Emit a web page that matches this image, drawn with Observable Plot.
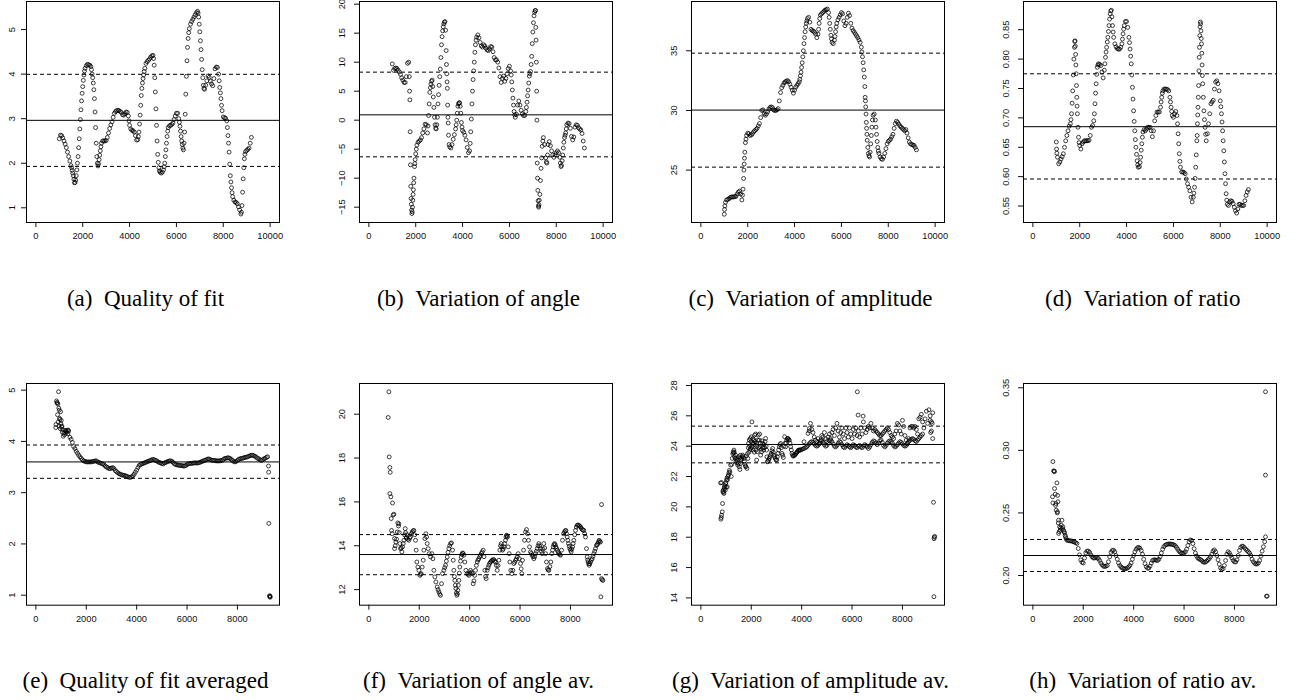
<!DOCTYPE html>
<html><head><meta charset="utf-8">
<script src="https://cdn.jsdelivr.net/npm/d3@7"></script>
<script src="https://cdn.jsdelivr.net/npm/@observablehq/plot@0.6"></script>
<style>
html,body{margin:0;padding:0;background:#fff}
body{width:1297px;height:700px;position:relative;overflow:hidden}
.panel{position:absolute}
#caps{position:absolute;left:0;top:0}
</style></head><body>
<script>
// ---------- data ----------
// top row: values sampled every 50 units starting at x = 1000
const topStart = 1000, topStep = 50;
const qualityFit = [
2.55,2.63,2.62,2.57,2.50,2.43,2.35,2.25,2.15,2.05,
1.95,1.84,1.72,1.56,1.62,1.85,2.15,2.55,2.98,3.40,
3.72,3.98,4.13,4.19,4.22,4.21,4.20,4.17,4.00,3.80,
3.45,2.80,2.15,1.94,2.08,2.28,2.45,2.50,2.50,2.50,
2.51,2.58,2.68,2.78,2.86,2.93,3.03,3.12,3.16,3.18,
3.19,3.18,3.16,3.14,3.09,3.08,3.11,3.15,3.14,3.06,
2.85,2.77,2.74,2.73,2.70,2.62,2.52,2.53,2.70,3.08,
3.52,3.80,3.98,4.13,4.24,4.28,4.31,4.34,4.38,4.41,
4.42,4.20,3.60,2.85,2.20,1.90,1.80,1.78,1.80,1.85,
2.00,2.30,2.60,2.80,2.84,2.85,2.87,2.90,2.98,3.06,
3.12,3.12,3.00,2.83,2.60,2.42,2.30,2.70,3.55,4.30,
4.80,5.02,5.12,5.18,5.23,5.28,5.33,5.38,5.41,5.28,
4.95,4.55,4.10,3.75,3.66,3.75,3.85,3.96,3.93,3.84,
3.78,3.74,3.90,4.12,4.16,4.15,4.00,3.70,3.45,3.18,
3.04,3.02,3.01,2.95,2.62,2.25,1.72,1.45,1.25,1.17,
1.13,1.12,1.09,1.02,0.95,0.86,1.05,1.65,2.10,2.26,
2.29,2.31,2.34,2.45,2.58];
// additional points read on the steep stretches
const qualityFitSteep = [[1525,1.9],[1575,1.78],[1625,1.64],[1675,1.57],[1725,1.72],[1775,2.0],[1825,2.35],[1875,2.77],[1925,3.2],[1975,3.57],[2025,3.86],[2075,4.07],
[2375,4.1],[2425,3.92],[2475,3.65],[2525,3.15],[2575,2.45],[2625,2.0],[2675,1.99],[2725,2.18],[2775,2.37],[3975,2.95],
[4375,2.6],[4425,2.88],[4475,3.3],[4525,3.68],[4575,3.9],[4625,4.06],
[5025,4.35],[5075,3.92],[5125,3.22],[5175,2.5],[5225,2.02],[5275,1.83],
[5475,1.92],[5525,2.15],[5575,2.45],[5625,2.72],
[6125,2.92],[6175,2.72],[6225,2.5],[6275,2.34],[6325,2.45],[6375,3.1],[6425,3.95],[6475,4.6],[6525,4.93],
[6925,5.37],[6975,5.12],[7025,4.75],[7075,4.33],[7125,3.92],[7175,3.68],
[7825,3.85],[7875,3.58],[7925,3.3],
[8175,2.8],[8225,2.45],[8275,1.98],[8325,1.58],[8375,1.34],
[8775,0.9],[8825,1.35],[8875,1.9],[8925,2.2]];
const varAngle = [
9.7,8.6,8.9,9.0,8.9,8.6,8.3,7.9,7.3,6.9,
6.5,6.5,7.5,9.8,10.0,3.5,-13.5,-15.8,-12.0,-8.0,
-5.8,-4.3,-3.8,-3.6,-3.4,-3.0,-2.2,-1.5,-0.7,-0.8,
-2.2,0.8,4.8,6.2,6.9,4.0,0.5,-1.4,-0.8,2.8,
6.0,8.8,13.0,15.4,16.6,17.0,12.0,5.5,-2.6,-4.6,
-4.8,-4.2,-3.3,-2.5,-1.5,0.0,2.4,3.0,2.4,-0.4,
-1.8,-2.1,-2.6,-3.4,-4.7,-5.6,-5.3,-2.0,2.8,7.0,
10.0,13.0,14.3,14.7,14.2,13.4,12.8,12.6,13.0,12.8,
12.4,12.1,12.0,12.3,12.7,12.6,11.8,10.8,10.4,10.4,
10.0,9.0,7.5,6.5,7.2,7.6,6.7,7.2,8.0,8.9,
9.3,8.5,6.6,3.8,1.5,0.5,1.0,2.6,3.3,2.6,
1.7,1.1,0.8,0.8,1.5,3.1,5.2,7.6,8.4,11.0,
15.2,18.0,18.9,10.0,-10.0,-15.0,-12.8,-8.3,-4.5,-3.0,
-4.2,-6.5,-7.4,-4.2,-3.7,-4.4,-5.3,-6.0,-6.4,-6.0,
-5.6,-5.3,-5.6,-6.4,-8.0,-7.0,-4.8,-3.0,-2.2,-0.8,
-0.5,-0.6,-1.4,-2.8,-3.4,-2.9,-1.2,-0.8,-0.9,-1.3,
-1.5,-1.7,-2.3,-3.6,-4.8];
const varAngleSteep = [[1725,7.5],[1737,5.0],[1762,-2.0],[1775,-7.7],[1787,-11.4],[1812,-14.5],[1825,-15.5],[1837,-16.1],[1862,-15.0],[1875,-13.8],[1887,-12.8],[1912,-10.8],[1925,-10.0],[1962,-7.5],[1975,-6.8],[2025,-5.0],
[2525,-1.0],[2575,2.8],[2625,5.6],[2675,6.7],[2725,5.8],[2775,2.2],[2825,-0.8],[2875,-1.5],[2925,0.5],[2975,4.4],[3025,7.5],[3075,10.8],[3125,14.4],[3175,16.1],[3225,16.9],[3275,15.5],[3312,9.6],[3325,8.0],[3337,6.6],[3362,2.6],[3375,0.5],[3387,-0.5],[3425,-4.2],
[3725,-0.8],[3775,1.2],[3825,2.8],[3875,3.0],[3925,1.2],[3975,-1.2],
[4325,-4.0],[4375,0.2],[4425,5.0],[4475,8.5],[4525,11.7],[4575,13.8],
[6075,7.8],[6125,5.2],[6175,2.6],[6225,0.9],
[6725,2.2],[6775,4.2],[6825,6.4],[6875,8.0],[6925,9.6],[6975,13.2],[7025,16.8],[7075,18.6],[7112,18.9],[7125,16.0],[7137,13.8],[7162,5.0],[7175,0.0],[7187,-7.4],[7212,-12.1],[7225,-13.9],[7237,-14.8],[7262,-14.6],[7275,-13.8],[7325,-10.4],[7375,-6.5],[7425,-3.6],
[7575,-7.2],[7625,-6.0],
[8175,-7.4],[8225,-7.8],[8275,-6.0],[8325,-3.8],[8375,-2.6],[8425,-1.5]];
const varAmplitude = [
21.3,22.3,22.5,22.55,22.6,22.7,22.75,22.75,22.75,22.78,
22.8,23.0,23.15,23.25,23.0,22.5,23.4,25.5,27.3,27.9,
28.1,28.05,27.9,27.95,28.05,28.2,28.3,28.4,28.5,28.7,
28.9,29.4,30.0,30.05,29.7,29.6,29.7,29.9,30.1,30.25,
30.3,30.25,30.05,30.0,30.0,30.05,30.15,30.8,31.5,31.9,
32.1,32.3,32.4,32.45,32.5,32.4,32.2,31.95,31.7,31.45,
31.7,31.95,32.1,32.25,32.4,32.9,33.6,34.5,35.6,36.6,
37.3,37.7,37.8,37.4,36.8,36.7,36.65,36.55,36.4,36.1,
36.4,37.3,38.0,38.1,38.2,38.3,38.4,38.45,38.5,38.2,
37.3,36.3,35.7,35.6,35.9,36.6,37.3,37.6,37.8,38.0,
38.2,38.1,37.5,37.1,37.3,37.8,38.15,37.95,37.3,36.9,
36.7,36.55,36.4,36.25,36.1,35.9,35.7,35.3,34.5,33.4,
32.0,29.7,27.5,26.4,26.1,27.2,28.6,29.6,29.7,29.2,
28.0,26.9,26.4,26.1,25.95,25.9,26.1,26.4,26.8,27.2,
27.4,27.5,27.6,27.8,28.0,28.5,28.9,29.1,29.0,28.85,
28.7,28.6,28.5,28.4,28.3,28.4,28.1,27.7,27.35,27.2,
27.15,27.1,27.07,26.9,26.7];
const varAmplitudeSteep = [[1010,21.7],[1025,22.0],[1775,22.9],[1825,24.3],[1837,25.0],[1862,26.0],[1875,26.5],[1925,27.6],
[4225,32.6],[4275,33.2],[4325,34.0],[4375,35.0],[4425,36.1],[4475,37.0],[4525,37.5],
[5025,36.8],[5075,37.7],[5475,37.8],[5525,36.8],[5575,36.0],[5725,36.2],[5775,37.0],
[6875,34.9],[6925,34.0],[6975,32.8],[7012,31.1],[7025,30.8],[7037,30.3],[7062,29.0],[7075,28.5],[7087,28.0],[7125,26.9],[7175,26.2],
[7225,26.5],[7275,27.9],[7325,29.2],[7475,28.6],[7525,27.4],[7575,26.6]];
const varRatio = [
0.659,0.633,0.622,0.625,0.630,0.634,0.639,0.650,0.661,0.670,
0.678,0.686,0.690,0.707,0.746,0.800,0.831,0.775,0.707,0.667,
0.653,0.647,0.656,0.659,0.661,0.661,0.661,0.661,0.662,0.670,
0.684,0.687,0.695,0.724,0.758,0.786,0.792,0.791,0.789,0.778,
0.768,0.781,0.803,0.820,0.837,0.857,0.877,0.883,0.857,0.837,
0.826,0.821,0.818,0.817,0.817,0.820,0.826,0.843,0.857,0.864,
0.864,0.854,0.837,0.817,0.792,0.752,0.712,0.678,0.650,0.627,
0.616,0.617,0.633,0.656,0.676,0.680,0.678,0.681,0.684,0.684,
0.684,0.678,0.668,0.678,0.695,0.704,0.710,0.710,0.710,0.718,
0.735,0.746,0.749,0.749,0.749,0.748,0.746,0.735,0.718,0.704,
0.701,0.707,0.711,0.704,0.673,0.639,0.616,0.608,0.608,0.607,
0.605,0.596,0.588,0.582,0.576,0.565,0.557,0.565,0.582,0.616,
0.661,0.718,0.803,0.863,0.826,0.758,0.712,0.684,0.661,0.673,
0.690,0.707,0.724,0.727,0.730,0.749,0.761,0.763,0.758,0.746,
0.729,0.707,0.678,0.644,0.605,0.571,0.553,0.551,0.557,0.559,
0.558,0.554,0.548,0.542,0.538,0.545,0.553,0.553,0.551,0.551,
0.551,0.559,0.568,0.574,0.578];
const varRatioSteep = [[1012,0.647],[1025,0.64],[1625,0.697],[1675,0.725],[1725,0.773],[1775,0.82],[1787,0.83],[1812,0.822],[1825,0.808],[1837,0.79],[1862,0.755],[1875,0.735],[1887,0.72],[1925,0.684],[1975,0.658],
[2625,0.707],[2675,0.742],[2725,0.774],[2775,0.79],
[3075,0.792],[3125,0.812],[3175,0.829],[3225,0.847],[3275,0.868],[3325,0.882],[3375,0.872],[3425,0.846],[3825,0.834],[3875,0.851],
[4125,0.828],[4175,0.805],[4225,0.773],[4275,0.732],[4325,0.694],[4375,0.663],[4425,0.638],[4475,0.62],[4575,0.624],[4625,0.645],[4675,0.667],
[5475,0.727],[5525,0.742],[5875,0.727],[5925,0.711],[6175,0.69],[6225,0.656],[6275,0.626],
[6875,0.572],[6925,0.597],[6975,0.637],[7012,0.67],[7025,0.69],[7037,0.705],[7062,0.735],[7075,0.755],[7087,0.78],[7112,0.82],[7125,0.84],[7137,0.855],[7162,0.86],[7175,0.848],[7187,0.835],[7212,0.81],[7225,0.79],[7237,0.772],[7275,0.735],[7325,0.697],[7375,0.672],
[8025,0.719],[8075,0.693],[8125,0.661],[8175,0.625],[8225,0.588],[8275,0.56]];

// (e) quality of fit averaged
const qfaEarly = [[790,4.27],[800,4.33],[820,4.79],[835,4.76],[848,4.75],[860,4.52],[874,4.73],[885,4.38],[900,4.97],[910,4.65],[920,4.30],[927,4.61],[940,4.45],[954,4.43],[965,4.25],[980,4.58],[990,4.35],[1007,4.41],[1020,4.28],[1033,4.30],[1050,4.18],[1060,4.23],[1086,4.10],[1110,4.16],[1130,4.13],[1152,4.22],[1180,4.20],[1200,4.16],[1219,4.19],[1250,4.22],[1270,4.15],[1285,4.22]];
const qfaStart = 1300;
const qfaMain = [
4.20,4.08,4.04,3.98,3.90,3.86,3.81,3.77,3.73,3.70,
3.67,3.64,3.62,3.61,3.60,3.60,3.60,3.60,3.60,3.61,
3.61,3.62,3.62,3.60,3.59,3.58,3.57,3.56,3.55,3.52,
3.50,3.49,3.47,3.47,3.48,3.49,3.47,3.43,3.41,3.39,
3.37,3.36,3.35,3.34,3.34,3.33,3.32,3.31,3.30,3.30,
3.31,3.33,3.36,3.40,3.44,3.49,3.53,3.55,3.56,3.57,
3.58,3.59,3.60,3.61,3.62,3.63,3.64,3.65,3.64,3.63,
3.62,3.60,3.59,3.58,3.57,3.56,3.58,3.59,3.60,3.61,
3.62,3.62,3.61,3.59,3.56,3.55,3.54,3.54,3.53,3.53,
3.53,3.52,3.52,3.53,3.55,3.56,3.57,3.57,3.57,3.58,
3.58,3.58,3.58,3.58,3.59,3.60,3.61,3.62,3.63,3.64,
3.65,3.66,3.65,3.64,3.63,3.63,3.63,3.62,3.62,3.62,
3.62,3.63,3.63,3.65,3.67,3.67,3.68,3.68,3.67,3.65,
3.63,3.61,3.60,3.61,3.63,3.65,3.66,3.67,3.67,3.68,
3.69,3.69,3.70,3.71,3.72,3.73,3.73,3.72,3.71,3.69,
3.67,3.66,3.64,3.63,3.64,3.66,3.67,3.69,3.70];
const qfaTail = [[9232,3.52],[9238,3.40],[9245,2.40],[9275,0.99],[9285,0.97],[9295,0.98],[9300,0.96]];

// (f) variation of angle averaged
const vaaPoints = [[767,19.85],[794,21.02],[807,18.05],[833,17.57],[833,16.38],[847,17.35],[873,16.23],[886,15.24],[899,14.7],[926,14.55],[939,15.95],[966,15.4],[992,15.44],[1019,14.33],[1019,13.87],[1045,14.0],[1071,14.17],[1098,14.3],[1124,14.63],[1150,15.04],[1177,14.9],[1190,15.0],[1203,14.6],[1230,14.1],[1257,13.87],[1283,13.9],[1310,13.72],[1336,13.95],[1363,14.1],[1389,14.25],[1416,14.5],[1442,14.78],[1455,14.6],[1481,14.35],[1495,14.4],[1521,14.5],[1548,14.3],[1587,14.25],[1620,14.35],[1653,14.4],[1686,14.55],[1720,14.63],[1753,14.68],[1786,14.7],[1820,14.5],[1852,14.25],[1878,13.8],[1905,13.26],[1944,13.03],[1984,12.88],[2024,12.65],[2050,12.7],[2077,12.73],[2116,13.03],[2156,13.34],[2183,13.8],[2222,14.33],[2262,14.55],[2290,14.4],[2315,14.1],[2355,13.87],[2394,13.64],[2447,13.49],[2500,13.64],[2540,13.41],[2579,12.88],[2619,12.58],[2659,12.35],[2712,12.12],[2745,12.0],[2778,11.9],[2810,11.8],[2844,11.74],[2884,12.27],[2923,12.73],[2976,12.88],[3009,13.0],[3042,13.11],[3075,13.3],[3108,13.49],[3141,13.7],[3175,13.87],[3208,14.0],[3241,14.1],[3280,14.13],[3320,13.8],[3347,13.34],[3373,12.88],[3393,12.6],[3413,12.42],[3432,12.2],[3452,12.05],[3472,11.85],[3492,11.74],[3512,11.8],[3532,11.97],[3551,12.2],[3571,12.42],[3591,12.75],[3611,13.03],[3637,13.3],[3664,13.49],[3690,13.6],[3717,13.67],[3743,13.65],[3770,13.57],[3810,13.26],[3849,12.88],[3902,12.73],[3935,12.7],[3968,12.65],[4001,12.75],[4034,12.88],[4067,12.8],[4101,12.73],[4140,12.27],[4170,12.4],[4200,12.65],[4233,12.88],[4266,13.1],[4299,13.26],[4332,13.35],[4365,13.41],[4398,13.5],[4431,13.57],[4464,13.65],[4497,13.72],[4537,13.8],[4570,13.5],[4603,12.88],[4630,12.6],[4656,12.5],[4696,12.88],[4729,13.0],[4762,13.11],[4795,13.2],[4828,13.26],[4861,13.3],[4894,13.34],[4927,13.36],[4960,13.37],[4993,13.3],[5026,13.26],[5060,13.1],[5093,12.88],[5126,13.1],[5159,13.34],[5198,13.8],[5225,14.0],[5251,14.1],[5278,13.95],[5304,13.8],[5330,13.85],[5357,13.95],[5390,14.1],[5423,14.25],[5443,14.4],[5463,14.48],[5483,14.45],[5503,14.4],[5529,13.95],[5569,13.64],[5595,13.26],[5635,12.88],[5675,12.73],[5714,12.88],[5754,13.19],[5787,13.25],[5820,13.34],[5853,13.4],[5886,13.49],[5926,13.64],[5966,13.41],[6018,13.19],[6045,12.95],[6071,12.73],[6098,13.34],[6138,13.8],[6177,14.25],[6217,14.63],[6257,14.74],[6296,14.55],[6336,14.25],[6376,13.95],[6415,13.72],[6448,13.65],[6481,13.57],[6515,13.5],[6548,13.41],[6581,13.5],[6614,13.64],[6647,13.75],[6680,13.87],[6713,14.0],[6746,14.1],[6779,14.0],[6812,13.87],[6845,13.75],[6878,13.64],[6911,13.85],[6944,14.1],[6978,13.9],[7011,13.64],[7050,13.26],[7090,12.96],[7117,12.9],[7143,12.88],[7183,13.05],[7222,13.26],[7262,13.64],[7289,13.8],[7315,13.95],[7342,14.05],[7368,14.1],[7395,14.05],[7421,13.95],[7448,13.88],[7474,13.8],[7507,13.72],[7540,13.64],[7573,13.6],[7606,13.57],[7646,13.8],[7685,14.25],[7725,14.55],[7765,14.63],[7792,14.68],[7818,14.7],[7844,14.55],[7870,14.4],[7897,14.25],[7923,14.1],[7950,13.98],[7976,13.87],[8003,13.8],[8029,13.72],[8055,13.85],[8082,13.95],[8108,14.1],[8135,14.25],[8168,14.5],[8201,14.7],[8234,14.85],[8267,14.93],[8300,14.95],[8333,14.93],[8366,14.9],[8399,14.86],[8432,14.8],[8466,14.74],[8499,14.72],[8532,14.7],[8565,14.55],[8598,14.4],[8638,13.87],[8664,13.49],[8684,13.35],[8704,13.26],[8724,13.18],[8744,13.11],[8770,13.18],[8796,13.26],[8829,13.35],[8862,13.41],[8895,13.52],[8929,13.64],[8962,13.75],[8995,13.87],[9034,14.02],[9060,14.05],[9087,14.1],[9113,14.18],[9140,14.25],[9166,14.2],[9193,14.17],[9206,11.67],[9233,15.88],[9233,12.5],[9260,12.45],[9286,12.42]];

// (g) variation of amplitude averaged
const vamEarly = [[781,21.58],[795,19.19],[808,19.3],[821,19.45],[821,21.6],[848,19.67],[861,20.22],[874,21.0],[887,21.1],[900,20.95],[914,20.88],[927,21.3],[940,21.2],[954,21.4],[967,21.1],[980,21.54],[993,21.6],[1007,21.3],[1020,21.76],[1033,21.9],[1046,21.32],[1060,21.8],[1073,22.0],[1093,22.1],[1113,22.24],[1132,22.4],[1152,22.3],[1179,22.75],[1205,22.0],[1225,22.8],[1245,23.19],[1265,23.5],[1285,23.63],[1298,23.55],[1311,23.74],[1325,23.6],[1338,23.3],[1358,23.2],[1377,23.41],[1397,23.0],[1417,23.19],[1430,22.9],[1444,23.08],[1464,22.75],[1483,22.86],[1503,23.3],[1523,22.64],[1537,23.2],[1550,22.46],[1563,23.4],[1576,22.86],[1596,23.1],[1616,23.19],[1636,23.3],[1656,23.41],[1682,23.3],[1709,23.19],[1728,23.0],[1748,22.81],[1768,22.7],[1788,22.64],[1808,23.35],[1828,22.53],[1848,23.5],[1868,23.19],[1881,23.9],[1894,24.18],[1907,23.6],[1921,24.4],[1934,24.0],[1947,23.74],[1960,24.5],[1974,23.85],[1987,24.3],[2000,24.62],[2013,23.9],[2026,25.6],[2040,24.0],[2053,24.18],[2066,24.5],[2079,23.74],[2092,24.2],[2106,24.4],[2119,23.6],[2132,24.73],[2146,24.3],[2159,24.07],[2172,24.8],[2185,23.74],[2199,24.2],[2212,23.08],[2225,24.0],[2238,23.63],[2258,24.4],[2278,24.73],[2298,23.9],[2318,24.4],[2331,24.8],[2344,23.96],[2358,24.2],[2371,23.41],[2391,23.8],[2411,23.63],[2430,24.35],[2450,24.18],[2470,23.9],[2490,23.74],[2510,24.1],[2530,23.91],[2550,24.3],[2570,24.51],[2590,24.0],[2609,23.74],[2623,23.3],[2636,22.97],[2662,23.0],[2689,23.08],[2715,23.2],[2742,23.3],[2768,23.4],[2795,23.52],[2821,23.7],[2848,23.85],[2874,23.6],[2901,23.41],[2928,23.3],[2954,23.19],[2980,23.1],[3007,23.08],[3034,23.3],[3060,23.52],[3086,23.75],[3113,23.96],[3140,24.1],[3166,24.18],[3193,23.9],[3219,23.52],[3245,23.4],[3272,23.25],[3298,24.0],[3325,24.62],[3345,24.2],[3364,23.96],[3384,24.2],[3404,24.4],[3430,24.5],[3457,24.51],[3484,24.45],[3510,24.4],[3537,24.2],[3563,23.96],[3590,23.75],[3616,23.52],[3643,23.4],[3669,23.34],[3695,23.38],[3722,23.41],[3748,23.45],[3775,23.52],[3801,23.58],[3828,23.63],[3855,23.7],[3881,23.74],[3908,23.74],[3934,23.74],[4093,24.29],[4252,24.84],[4305,25.16]];
const vamLowStart = 3950;
const vamLow = [23.75,
23.78,23.82,23.86,23.90,23.95,24.05,24.15,24.25,24.30,24.25,
24.15,24.05,24.00,24.05,24.15,24.30,24.35,24.25,24.10,24.00,
24.05,24.20,24.35,24.40,24.30,24.15,24.00,23.95,24.05,24.20,
24.30,24.25,24.10,23.95,23.90,24.00,24.10,24.05,23.95,23.90,
24.00,24.10,24.05,23.95,23.90,24.00,24.05,23.95,23.90,24.00,
24.10,24.05,23.95,23.85,23.95,24.10,24.25,24.35,24.30,24.20,
24.10,24.20,24.35,24.40,24.25,24.05,23.95,24.05,24.20,24.30,
24.35,24.30,24.20,24.05,23.95,24.00,24.10,24.20,24.30,24.25,
24.15,24.05,24.00,24.05,24.15,24.30,24.40,24.45,24.50,24.45,
24.35,24.30,24.40,24.50,24.60,24.70,24.80];
const vamHighStart = 4300;
const vamHigh = [
25.0,25.5,25.1,24.9,24.6,24.4,24.3,24.5,24.2,24.4,
24.7,24.6,24.9,24.5,24.3,24.6,24.8,24.5,24.9,25.1,
24.7,25.2,25.5,25.0,24.6,24.9,25.2,24.8,24.5,25.2,
24.9,24.6,25.2,24.8,24.5,25.1,24.8,25.2,24.7,25.0,
24.6,25.2,24.8,25.6,25.2,24.9,25.1,25.3,25.2,25.5,
25.2,25.0,25.1,25.0,24.9,24.8,24.7,24.7,24.8,24.9,
25.0,25.1,25.2,25.1,24.9,24.7,24.6,24.5,24.8,25.0,
25.5,25.4,25.0,24.8,25.7,25.3,24.7,24.4,24.2,24.5,
25.2,25.3,25.3,25.2,25.3,25.1,24.8,25.8,25.9,26.1,
25.6,25.2,25.8,26.3,25.5,26.4,25.7,25.0,26.2];
const vamExtra = [[9100,26.0],[9120,24.9],[9150,25.6],[9180,25.5],[9200,24.5],[6210,27.58],[6240,26.05],[6440,25.98],[9232,20.3],[9255,17.9],[9265,18.0],[9280,18.05],[9250,14.08]];

// (h) variation of ratio averaged
const vraEarly = [[781,0.2629],[795,0.291],[795,0.258],[821,0.2836],[848,0.2834],[855,0.2830],[861,0.2695],[887,0.265],[900,0.2560],[914,0.2575],[927,0.2522],[954,0.274],[967,0.2500],[980,0.264],[980,0.2509],[993,0.2589],[1007,0.2420],[1020,0.2442],[1020,0.2336],[1046,0.2350],[1060,0.2389],[1086,0.2362],[1100,0.2380],[1126,0.2402],[1152,0.2442],[1170,0.2375],[1192,0.2389],[1219,0.2362],[1240,0.2350],[1258,0.2341],[1280,0.2320],[1298,0.2309],[1320,0.2295]];
const vraStart = 1350;
const vraMain = [
0.2282,0.2280,0.2278,0.2277,0.2275,0.2270,0.2268,0.2262,0.2256,0.2216,
0.2165,0.2125,0.2105,0.2100,0.2140,0.2180,0.2195,0.2195,0.2185,0.2165,
0.2150,0.2140,0.2140,0.2145,0.2140,0.2135,0.2120,0.2100,0.2085,0.2075,
0.2072,0.2075,0.2080,0.2110,0.2150,0.2185,0.2200,0.2202,0.2190,0.2160,
0.2130,0.2100,0.2080,0.2068,0.2060,0.2055,0.2052,0.2055,0.2060,0.2068,
0.2080,0.2100,0.2130,0.2160,0.2190,0.2210,0.2222,0.2225,0.2218,0.2200,
0.2170,0.2130,0.2095,0.2070,0.2058,0.2060,0.2075,0.2100,0.2120,0.2125,
0.2125,0.2122,0.2120,0.2130,0.2150,0.2180,0.2210,0.2230,0.2242,0.2248,
0.2250,0.2252,0.2252,0.2250,0.2248,0.2245,0.2238,0.2225,0.2210,0.2195,
0.2185,0.2180,0.2178,0.2180,0.2190,0.2210,0.2240,0.2270,0.2285,0.2280,
0.2255,0.2215,0.2180,0.2155,0.2140,0.2132,0.2128,0.2120,0.2110,0.2105,
0.2108,0.2115,0.2125,0.2135,0.2150,0.2170,0.2195,0.2205,0.2190,0.2160,
0.2125,0.2090,0.2060,0.2050,0.2055,0.2080,0.2120,0.2170,0.2190,0.2180,
0.2160,0.2140,0.2120,0.2110,0.2108,0.2125,0.2160,0.2200,0.2225,0.2235,
0.2232,0.2222,0.2210,0.2200,0.2190,0.2180,0.2160,0.2130,0.2110,0.2098,
0.2092,0.2092,0.2100,0.2120,0.2155,0.2195,0.2230,0.2270];
const vraTail = [[9232,0.3468],[9232,0.2802],[9232,0.2309],[9272,0.1835],[9298,0.1835]];

// horizontal reference lines: [mean, lower, upper]
const refLines = {
  a: [2.963, 1.929, 3.996], b: [0.92, -6.32, 8.28], c: [30.03, 25.25, 34.8], d: [0.685, 0.596, 0.775],
  e: [3.60, 3.28, 3.93], f: [13.6, 12.68, 14.51], g: [24.11, 22.9, 25.32], h: [0.216, 0.2032, 0.2288]
};
// tick values
const topXTicks = [0, 2000, 4000, 6000, 8000, 10000];
const botXTicks = [0, 2000, 4000, 6000, 8000];
const yTicks = {
  a: [1, 2, 3, 4, 5], b: [-15, -10, -5, 0, 5, 10, 15, 20], c: [25, 30, 35],
  d: [0.55, 0.60, 0.65, 0.70, 0.75, 0.80, 0.85],
  e: [1, 2, 3, 4, 5], f: [12, 14, 16, 18, 20], g: [14, 16, 18, 20, 22, 24, 26, 28], h: [0.20, 0.25, 0.30, 0.35]
};
const captions = {
  a: "(a)\u2002Quality of fit", b: "(b)\u2002Variation of angle", c: "(c)\u2002Variation of amplitude", d: "(d)\u2002Variation of ratio",
  e: "(e)\u2002Quality of fit averaged", f: "(f)\u2002Variation of angle av.", g: "(g)\u2002Variation of amplitude av.", h: "(h)\u2002Variation of ratio av."
};

// ---------- build ----------
const grid = (start, step, ys) => ys.map((v, i) => ({x: start + i * step, y: v}));
const pairs = (arr) => arr.map(([x, y]) => ({x, y}));

const minus = s => s.replace("-", "\u2212");
const intFmt = d => minus(String(d));
const f2 = d => d3.format(".2f")(d);

const boxLefts = [26, 359, 691, 1023.3];
const boxW = 253;
const rows = [{top: 1, h: 221, xDomain: [-400, 10400], xTicks: topXTicks, capY: 306},
              {top: 383.3, h: 221.7, xDomain: [-372, 9669], xTicks: botXTicks, capY: 688}];

const panels = [
  {k: "a", row: 0, col: 0, y: [0.67, 5.63], fmt: intFmt, pts: [...grid(topStart, topStep, qualityFit), ...pairs(qualityFitSteep)]},
  {k: "b", row: 0, col: 1, y: [-17.64, 20.46], fmt: intFmt, pts: [...grid(topStart, topStep, varAngle), ...pairs(varAngleSteep)]},
  {k: "c", row: 0, col: 2, y: [20.61, 39.13], fmt: intFmt, pts: [...grid(topStart, topStep, varAmplitude), ...pairs(varAmplitudeSteep)]},
  {k: "d", row: 0, col: 3, y: [0.522, 0.898], fmt: f2, pts: [...grid(topStart, topStep, varRatio), ...pairs(varRatioSteep)]},
  {k: "e", row: 1, col: 0, y: [0.805, 5.13], fmt: intFmt, pts: [...pairs(qfaEarly), ...grid(qfaStart, 50, qfaMain), ...pairs(qfaTail)]},
  {k: "f", row: 1, col: 1, y: [11.29, 21.4], fmt: intFmt, pts: pairs(vaaPoints)},
  {k: "g", row: 1, col: 2, y: [13.52, 28.13], fmt: intFmt, pts: [...pairs(vamEarly), ...grid(vamLowStart, 50, vamLow), ...grid(vamHighStart, 50, vamHigh), ...pairs(vamExtra)]},
  {k: "h", row: 1, col: 3, y: [0.1763, 0.3534], fmt: f2, pts: [...pairs(vraEarly), ...grid(vraStart, 50, vraMain), ...pairs(vraTail)]}
];

const ML = 32, MR = 8, MT = 8, MB = 32;
for (const p of panels) {
  const row = rows[p.row];
  const [mean, lo, hi] = refLines[p.k];
  const labOff = p.col === 0 ? 14.5 : 17;
  const chart = Plot.plot({
    width: ML + boxW + MR,
    height: MT + row.h + MB,
    marginLeft: ML, marginRight: MR, marginTop: MT, marginBottom: MB,
    x: {domain: row.xDomain},
    y: {domain: p.y},
    style: {fontFamily: "'Liberation Sans', Arial, sans-serif", fontSize: "9.3px", color: "#111", background: "transparent", overflow: "visible"},
    marks: [
      Plot.ruleY([mean], {stroke: "#000", strokeWidth: 1}),
      Plot.ruleY([lo, hi], {stroke: "#000", strokeWidth: 1, strokeDasharray: "4,3"}),
      Plot.dot(p.pts, {x: "x", y: "y", r: 1.95, stroke: "#000", strokeWidth: 0.75, fill: "none"}),
      Plot.frame({stroke: "#000", strokeWidth: 1}),
      Plot.axisX({ticks: row.xTicks, tickSize: 5, tickPadding: 5, tickFormat: d => String(d), label: null, fontSize: 9.3}),
      Plot.axisY({ticks: yTicks[p.k], tickSize: 5, tickFormat: () => "", label: null}),
      Plot.text(yTicks[p.k], {y: d => d, text: p.fmt, frameAnchor: "left", dx: -labOff, rotate: -90, fontSize: 9.3, textAnchor: "middle", lineAnchor: "middle"})
    ]
  });
  chart.classList.add("panel");
  chart.style.left = (boxLefts[p.col] - ML) + "px";
  chart.style.top = (row.top - MT) + "px";
  document.body.appendChild(chart);
}

// captions
const caps = d3.select(document.body).append("svg").attr("id", "caps").attr("width", 1297).attr("height", 700);
for (const p of panels) {
  const row = rows[p.row];
  caps.append("text")
    .attr("x", boxLefts[p.col] + boxW / 2 - 7)
    .attr("y", row.capY)
    .attr("text-anchor", "middle")
    .attr("font-family", "'Liberation Serif', 'Times New Roman', serif")
    .attr("font-size", 23)
    .text(captions[p.k]);
}
</script>
</body></html>
